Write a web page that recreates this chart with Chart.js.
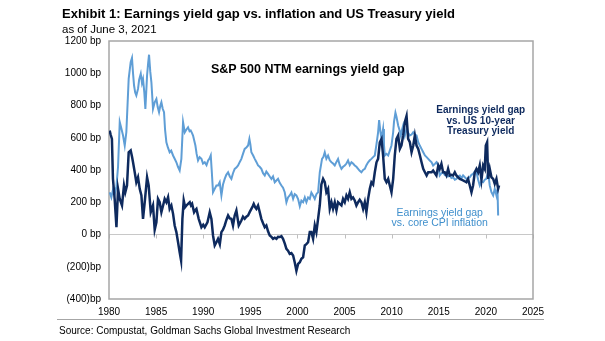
<!DOCTYPE html>
<html lang="en">
<head>
<meta charset="UTF-8">
<title>Earnings yield gap vs. inflation and US Treasury yield</title>
<script src="https://cdn.jsdelivr.net/npm/chart.js"></script>
<style>
  body { margin: 0; background: #fff; font-family: 'Liberation Sans', Arial, sans-serif; color: #000; }
  #wrap { position: relative; width: 605px; height: 341px; }
  #chart { position: absolute; left: 0; top: 0; }
  .title { position: absolute; left: 62px; top: 6px; font-size: 13px; font-weight: bold; white-space: nowrap; }
  .sub { position: absolute; left: 62px; top: 23px; font-size: 11.5px; white-space: nowrap; }
  .rule { position: absolute; left: 57px; top: 319px; width: 487px; border-top: 1px solid #a6a6a6; }
  .source { position: absolute; left: 59px; top: 325px; font-size: 10px; white-space: nowrap; }
</style>
</head>
<body>
<div id="wrap">
  <canvas id="chart" width="605" height="341"></canvas>
  <div class="title">Exhibit 1: Earnings yield gap vs. inflation and US Treasury yield</div>
  <div class="sub">as of June 3, 2021</div>
  <div class="rule"></div>
  <div class="source">Source: Compustat, Goldman Sachs Global Investment Research</div>
</div>
<script>
// earnings yield gap vs. core CPI inflation (bp)
const cpiYears = [1980.07, 1980.25, 1980.43, 1980.6, 1980.79, 1980.96, 1981.14, 1981.3, 1981.49, 1981.67, 1981.84,
  1982.09, 1982.3, 1982.44, 1982.55, 1982.66, 1982.78, 1982.9, 1983.08, 1983.2, 1983.37, 1983.5, 1983.61, 1983.75, 1983.86,
  1984.04, 1984.15, 1984.25, 1984.38, 1984.5, 1984.67, 1984.85, 1985.03, 1985.17, 1985.31, 1985.45, 1985.56, 1985.7, 1985.84, 1985.95,
  1986.09, 1986.25, 1986.44, 1986.6, 1986.8, 1986.97, 1987.15, 1987.32, 1987.5, 1987.68, 1987.86,
  1988.04, 1988.2, 1988.39, 1988.55, 1988.67, 1988.8, 1988.92, 1989.17, 1989.3, 1989.45, 1989.62, 1989.81, 1989.98,
  1990.16, 1990.35, 1990.52, 1990.66, 1990.8, 1990.92, 1991.04, 1991.22, 1991.4, 1991.58, 1991.75, 1991.93,
  1992.1, 1992.28, 1992.45, 1992.64, 1992.82, 1992.99, 1993.16, 1993.34, 1993.52, 1993.7, 1993.88,
  1994.05, 1994.22, 1994.4, 1994.58, 1994.76, 1994.9, 1995.0, 1995.11, 1995.3, 1995.47, 1995.64, 1995.82, 1995.99,
  1996.17, 1996.35, 1996.53, 1996.7, 1996.88, 1997.06, 1997.24, 1997.41, 1997.59, 1997.77, 1997.94,
  1998.12, 1998.3, 1998.47, 1998.65, 1998.83, 1999.0, 1999.18, 1999.36, 1999.54, 1999.71, 1999.89,
  2000.07, 2000.25, 2000.42, 2000.6, 2000.78, 2000.95, 2001.13, 2001.31, 2001.48, 2001.66, 2001.84,
  2002.01, 2002.19, 2002.37, 2002.5, 2002.61, 2002.75, 2002.9, 2003.07, 2003.25, 2003.43, 2003.61, 2003.78, 2003.96,
  2004.14, 2004.31, 2004.49, 2004.67, 2004.84, 2005.02, 2005.2, 2005.37, 2005.55, 2005.73, 2005.9,
  2006.08, 2006.26, 2006.44, 2006.61, 2006.79, 2006.97, 2007.15, 2007.32, 2007.5, 2007.68, 2007.85,
  2008.03, 2008.21, 2008.39, 2008.56, 2008.67, 2008.8, 2008.92, 2009.09, 2009.18, 2009.27, 2009.45, 2009.63, 2009.8, 2009.98,
  2010.16, 2010.25, 2010.4, 2010.51, 2010.69, 2010.87, 2010.97, 2011.1, 2011.22, 2011.4, 2011.58, 2011.75, 2011.93,
  2012.11, 2012.29, 2012.46, 2012.64, 2012.82, 2013.0, 2013.17, 2013.35, 2013.53, 2013.71, 2013.88,
  2014.04, 2014.24, 2014.4, 2014.59, 2014.75, 2014.95, 2015.1, 2015.28, 2015.46, 2015.63, 2015.81, 2015.99,
  2016.17, 2016.34, 2016.52, 2016.7, 2016.87, 2017.05, 2017.23, 2017.41, 2017.58, 2017.76, 2017.93,
  2018.11, 2018.29, 2018.47, 2018.64, 2018.82, 2019.0, 2019.18, 2019.35, 2019.53, 2019.71, 2019.88,
  2020.05, 2020.24, 2020.41, 2020.59, 2020.77, 2020.94, 2021.12, 2021.23, 2021.3];
const cpiGap = [262, 230, 280, 250, 300, 420, 697, 660, 614, 552, 634,
  967, 1069, 1095, 1000, 924, 880, 862, 903, 960, 997, 940, 965, 880, 779,
  986, 1060, 1115, 1010, 944, 779, 820, 841, 790, 758, 800, 820, 780, 758, 650,
  572, 540, 510, 520, 490, 470, 448, 420, 397, 469, 697,
  634, 650, 665, 640, 645, 630, 614, 552, 500, 459, 480, 469, 440,
  448, 430, 459, 470, 490, 380, 262, 283, 304, 304, 324, 242,
  310, 345, 370, 386, 360, 345, 380, 407, 415, 428, 450,
  469, 500, 531, 540, 552, 593, 560, 510, 490, 469, 450, 428, 420,
  407, 380, 366, 390, 376, 360, 345, 360, 324, 335, 345,
  320, 304, 290, 262, 200, 230, 242, 260, 221, 250, 242,
  220, 175, 210, 200, 230, 200, 230, 221, 260, 242, 221,
  250, 262, 386, 430, 469, 480, 510, 470, 490, 460, 448, 440, 428,
  450, 469, 430, 407, 420, 428, 440, 459, 430, 448, 440,
  428, 420, 407, 395, 386, 400, 407, 430, 448, 460, 469,
  480, 490, 560, 634, 710, 640, 593, 655, 560, 490, 500, 490, 520, 552,
  634, 700, 755, 730, 676, 640, 614, 650, 676, 614, 655, 630, 614,
  620, 634, 620, 614, 572, 550, 531, 510, 490, 480, 469,
  459, 448, 428, 438, 448, 428, 366, 380, 386, 370, 376, 360,
  366, 350, 355, 340, 345, 360, 366, 350, 366, 355, 345,
  350, 355, 370, 376, 390, 386, 340, 304, 330, 324, 340,
  345, 386, 304, 262, 242, 283, 242, 283, 118];

// earnings yield gap vs. US 10-year Treasury yield (bp)
const tsyYears = [1980.07, 1980.17, 1980.31, 1980.42, 1980.6, 1980.79, 1980.96, 1981.14, 1981.38, 1981.59, 1981.73, 1981.91,
  1982.09, 1982.3, 1982.45, 1982.55, 1982.73, 1982.9, 1983.08, 1983.26, 1983.44, 1983.61, 1983.79,
  1984.04, 1984.21, 1984.43, 1984.67, 1984.85, 1985.03, 1985.2, 1985.38, 1985.56, 1985.74, 1985.91,
  1986.09, 1986.27, 1986.44, 1986.62, 1986.8, 1986.97, 1987.15, 1987.33, 1987.5, 1987.65, 1987.79, 1987.93,
  1988.08, 1988.22, 1988.39, 1988.57, 1988.7, 1988.82, 1989.03, 1989.15, 1989.28, 1989.52, 1989.81,
  1990.0, 1990.16, 1990.3, 1990.45, 1990.69, 1990.87, 1991.04, 1991.22, 1991.4, 1991.57, 1991.76, 1991.93,
  1992.1, 1992.28, 1992.46, 1992.64, 1992.82, 1992.99, 1993.16, 1993.34, 1993.52, 1993.65, 1993.77, 1993.9,
  1994.05, 1994.22, 1994.4, 1994.58, 1994.76, 1994.94, 1995.11, 1995.25, 1995.36, 1995.5, 1995.64, 1995.82, 1995.99,
  1996.17, 1996.35, 1996.53, 1996.7, 1996.88, 1997.06, 1997.24, 1997.41, 1997.59, 1997.77, 1997.94,
  1998.12, 1998.3, 1998.47, 1998.65, 1998.83, 1999.0, 1999.18, 1999.36, 1999.54, 1999.71, 1999.89,
  2000.07, 2000.25, 2000.42, 2000.6, 2000.78, 2000.95, 2001.13, 2001.31, 2001.48, 2001.66, 2001.84,
  2002.01, 2002.19, 2002.37, 2002.54, 2002.72, 2002.9, 2003.07, 2003.25, 2003.43, 2003.61, 2003.78, 2003.96,
  2004.14, 2004.31, 2004.49, 2004.67, 2004.84, 2005.02, 2005.2, 2005.37, 2005.55, 2005.73, 2005.9,
  2006.08, 2006.26, 2006.44, 2006.61, 2006.79, 2006.97, 2007.15, 2007.32, 2007.5, 2007.68, 2007.85,
  2008.03, 2008.21, 2008.39, 2008.56, 2008.74, 2008.92, 2009.09, 2009.27, 2009.45, 2009.63, 2009.8, 2009.98,
  2010.16, 2010.33, 2010.51, 2010.69, 2010.87, 2011.04, 2011.22, 2011.4, 2011.58, 2011.75, 2011.93,
  2012.11, 2012.29, 2012.46, 2012.64, 2012.82, 2013.0, 2013.17, 2013.35, 2013.53, 2013.71, 2013.88,
  2014.04, 2014.24, 2014.4, 2014.59, 2014.75, 2014.95, 2015.1, 2015.28, 2015.46, 2015.63, 2015.81, 2015.99,
  2016.17, 2016.34, 2016.52, 2016.7, 2016.87, 2017.05, 2017.23, 2017.41, 2017.58, 2017.76, 2017.93,
  2018.11, 2018.29, 2018.47, 2018.64, 2018.82, 2019.0, 2019.18, 2019.35, 2019.53, 2019.71, 2019.88,
  2019.99, 2020.13, 2020.24, 2020.41, 2020.59, 2020.77, 2020.94, 2021.12, 2021.3, 2021.4];
const tsyGap = [645, 620, 593, 345, 221, 45, 283, 221, 180, 304, 262, 304,
  510, 521, 480, 448, 386, 324, 355, 283, 242, 97, 200,
  355, 304, 138, 180, 30, 76, 221, 200, 138, 180, 221,
  200, 231, 159, 180, 128, 56, 15, -48, -110, -161, 97, 211,
  170, 180, 190, 200, 180, 190, 138, 150, 159, 97, 45,
  60, 45, 60, 76, 138, 97, -6, -68, -48, -27, -60, 15,
  30, 56, 90, 118, 100, 97, 56, 118, 149, 100, 56, 70,
  87, 110, 97, 110, 118, 140, 159, 175, 190, 170, 159, 180, 140,
  97, 70, 45, 56, 20, -6, -15, -27, -20, -27, -15,
  -16, -10, -27, -55, -89, -100, -120, -115, -130, -172, -225,
  -182, -172, -150, -141, -68, -60, -48, 15, 15, -27, 56,
  15, 97, 180, 310, 345, 324, 262, 283, 159, 200, 159, 200,
  149, 200, 190, 180, 221, 200, 242, 221, 262, 221, 230,
  211, 180, 200, 215, 200, 159, 200, 138, 221, 283, 324,
  310, 386, 448, 469, 572, 593, 490, 345, 324, 345, 304, 262,
  345, 490, 593, 614, 531, 552, 614, 697, 735, 593, 572,
  510, 552, 614, 552, 531, 490, 448, 407, 386, 366, 386,
  386, 386, 397, 380, 366, 428, 407, 438, 386, 386, 366, 407,
  366, 370, 366, 386, 366, 355, 345, 340, 335, 330, 324,
  345, 304, 262, 304, 386, 407, 386, 428, 340, 428, 407,
  552, 572, 345, 407, 355, 345, 314, 345, 283, 304];

const yearTicks = [1980, 1985, 1990, 1995, 2000, 2005, 2010, 2015, 2020, 2025];

const tickFont = { family: "'Liberation Sans', Arial, sans-serif", size: 10 };
const navy = '#0e2a5e';
const sky = '#5f9ed6';

// grey box around the plot, plus small ticks hanging off the zero line
const frame = {
  id: 'frame',
  beforeDatasetsDraw(chart) {
    const { ctx, chartArea: a, scales: { x, y } } = chart;
    const y0 = y.getPixelForValue(0);
    ctx.save();
    ctx.strokeStyle = '#bfbfbf';
    ctx.lineWidth = 1;
    yearTicks.forEach(t => {
      const px = Math.round(x.getPixelForValue(t)) + 0.5;
      ctx.beginPath();
      ctx.moveTo(px, y0);
      ctx.lineTo(px, y0 + 4);
      ctx.stroke();
    });
    ctx.strokeStyle = '#a6a6a6';
    ctx.lineWidth = 1.5;
    ctx.strokeRect(a.left, a.top, a.right - a.left, a.bottom - a.top);
    ctx.restore();
  }
};

// in-chart labels, anchored on data coordinates
const notes = {
  id: 'notes',
  afterDatasetsDraw(chart) {
    const { ctx, scales: { x, y } } = chart;
    const block = (lines, year, val, font, color) => {
      ctx.font = font;
      ctx.fillStyle = color;
      ctx.textAlign = 'center';
      ctx.textBaseline = 'middle';
      lines.forEach((s, i) => ctx.fillText(s, x.getPixelForValue(year), y.getPixelForValue(val) + i * 10.5));
    };
    ctx.save();
    block(['S&P 500 NTM earnings yield gap'], 2001.1, 1023, "bold 12.5px 'Liberation Sans', Arial, sans-serif", '#000');
    block(['Earnings yield gap', 'vs. US 10-year', 'Treasury yield'], 2019.45, 769, "bold 10px 'Liberation Sans', Arial, sans-serif", navy);
    block(['Earnings yield gap', 'vs. core CPI inflation'], 2015.1, 135, "10.5px 'Liberation Sans', Arial, sans-serif", '#3f8fcc');
    ctx.restore();
  }
};

const toPoints = (xs, ys) => xs.map((v, i) => ({ x: v, y: ys[i] }));

new Chart(document.getElementById('chart'), {
  type: 'line',
  data: {
    datasets: [
      {
        label: 'Earnings yield gap vs. US 10-year Treasury yield',
        data: toPoints(tsyYears, tsyGap),
        borderColor: navy,
        borderWidth: 2.5,
        pointRadius: 0,
        tension: 0
      },
      {
        label: 'Earnings yield gap vs. core CPI inflation',
        data: toPoints(cpiYears, cpiGap),
        borderColor: sky,
        borderWidth: 2,
        pointRadius: 0,
        tension: 0
      }
    ]
  },
  options: {
    responsive: false,
    animation: false,
    layout: { padding: { left: 59, right: 72, top: 41, bottom: 22 } },
    plugins: {
      legend: { display: false },
      tooltip: { enabled: false }
    },
    scales: {
      x: {
        type: 'linear',
        min: 1980,
        max: 2025,
        afterBuildTicks: s => { s.ticks = yearTicks.map(v => ({ value: v })); },
        afterFit: s => { s.height = 20; },
        ticks: {
          color: '#000',
          padding: 7,
          maxRotation: 0,
          font: tickFont,
          callback: v => String(v)
        },
        grid: { display: false, drawTicks: false },
        border: { display: false }
      },
      y: {
        min: -400,
        max: 1200,
        afterFit: s => { s.width = 50; },
        ticks: {
          stepSize: 200,
          color: '#000',
          padding: 8,
          font: tickFont,
          callback: v => v < 0 ? `(${-v})bp` : `${v} bp`
        },
        grid: {
          drawTicks: false,
          lineWidth: 1,
          color: c => (c.tick && c.tick.value === 0) ? '#c8c8c8' : 'rgba(0,0,0,0)'
        },
        border: { display: false }
      }
    }
  },
  plugins: [frame, notes]
});
</script>
</body>
</html>
